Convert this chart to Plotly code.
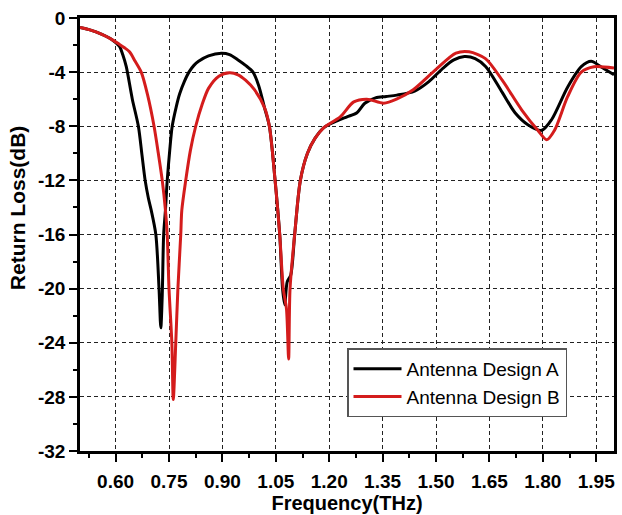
import plotly.graph_objects as go

# Antenna Design A (black)
freq_a = [0.50, 0.53, 0.56, 0.59, 0.611, 0.620, 0.630, 0.647, 0.664, 0.674, 0.683, 0.692,
          0.700, 0.713, 0.722, 0.727, 0.731, 0.735, 0.740, 0.745, 0.752, 0.759, 0.770,
          0.780, 0.793, 0.806, 0.820, 0.833, 0.861, 0.897, 0.920, 0.944, 0.965, 0.986,
          1.002, 1.018, 1.032, 1.048, 1.061, 1.069, 1.075, 1.082, 1.092, 1.103, 1.119,
          1.139, 1.160, 1.185, 1.222, 1.250, 1.278, 1.300, 1.330, 1.360, 1.390, 1.440,
          1.480, 1.520, 1.550, 1.580, 1.610, 1.640, 1.686, 1.722, 1.759, 1.797, 1.825,
          1.870, 1.908, 1.936, 1.963, 2.000]
loss_a = [-0.7, -0.9, -1.2, -1.6, -2.1, -2.7, -3.6, -6.0, -8.0, -10.1, -12.0, -13.3,
          -14.2, -16.0, -20.0, -22.9, -20.5, -16.0, -14.2, -12.0, -9.8, -8.0, -6.6,
          -5.6, -4.7, -4.0, -3.5, -3.2, -2.8, -2.6, -2.7, -3.1, -3.5, -4.0,
          -5.0, -6.6, -8.0, -12.0, -16.0, -20.0, -21.2, -19.5, -19.0, -16.0, -12.0,
          -10.0, -8.9, -8.1, -7.6, -7.3, -7.0, -6.3, -5.9, -5.8, -5.7, -5.4,
          -4.7, -3.7, -3.1, -2.85, -3.0, -3.6, -5.5, -7.0, -7.9, -8.3, -7.5,
          -5.1, -3.6, -3.2, -3.6, -4.2]

# Antenna Design B (red)
freq_b = [0.50, 0.53, 0.56, 0.59, 0.611, 0.625, 0.639, 0.655, 0.672, 0.690, 0.708, 0.720,
          0.731, 0.740, 0.745, 0.750, 0.758, 0.762, 0.769, 0.775, 0.783, 0.786, 0.797,
          0.810, 0.825, 0.843, 0.861, 0.890, 0.920, 0.944, 0.965, 0.990, 1.018, 1.032,
          1.048, 1.061, 1.071, 1.080, 1.086, 1.090, 1.103, 1.119, 1.139, 1.160, 1.185,
          1.231, 1.269, 1.306, 1.353, 1.389, 1.436, 1.500, 1.556, 1.593, 1.639, 1.686,
          1.741, 1.786, 1.811, 1.833, 1.870, 1.908, 1.944, 2.000]
loss_b = [-0.7, -0.9, -1.2, -1.6, -1.95, -2.2, -2.5, -3.2, -4.0, -5.7, -8.0, -10.0,
          -12.0, -14.2, -16.0, -20.0, -24.0, -28.2, -24.0, -20.0, -16.0, -14.2, -12.0,
          -9.8, -8.0, -6.4, -5.2, -4.3, -4.05, -4.2, -4.6, -5.3, -6.6, -8.0,
          -12.0, -16.0, -20.0, -21.5, -25.2, -20.0, -16.0, -12.0, -10.0, -8.9, -8.1,
          -7.3, -6.2, -6.0, -6.3, -6.0, -5.3, -3.8, -2.6, -2.5, -3.0, -4.6,
          -6.8, -8.3, -9.0, -8.3, -5.8, -4.0, -3.6, -3.7]

x_tickvals = [0.60, 0.75, 0.90, 1.05, 1.20, 1.35, 1.50, 1.65, 1.80, 1.95]
x_ticktext = ["0.60", "0.75", "0.90", "1.05", "1.20", "1.35", "1.50", "1.65", "1.80", "1.95"]
y_tickvals = [0, -4, -8, -12, -16, -20, -24, -28, -32]
y_ticktext = ["0", "-4", "-8", "-12", "-16", "-20", "-24", "-28", "-32"]

FONT = "Arial, Liberation Sans, sans-serif"

fig = go.Figure()
fig.add_trace(go.Scatter(x=freq_a, y=loss_a, mode="lines", name="Antenna Design A",
                         line=dict(color="#000000", width=3, shape="spline", smoothing=0.8)))
fig.add_trace(go.Scatter(x=freq_b, y=loss_b, mode="lines", name="Antenna Design B",
                         line=dict(color="#d41c1c", width=3, shape="spline", smoothing=0.8)))

fig.update_layout(
    width=622, height=515,
    margin=dict(l=80, r=5, t=18, b=63),
    paper_bgcolor="white", plot_bgcolor="white",
    font=dict(family=FONT, color="#000"),
    legend=dict(x=0.5, y=0.237, xanchor="left", yanchor="top",
                bgcolor="white", bordercolor="#555", borderwidth=1.5,
                font=dict(size=19, family=FONT),
                tracegroupgap=0, itemwidth=48),
    xaxis=dict(range=[0.5, 2.0], tickvals=x_tickvals,
               ticktext=["<b>" + t + "</b>" for t in x_ticktext],
               tickfont=dict(family=FONT, size=19, weight="bold"),
               ticks="outside", ticklen=8, tickwidth=2, tickcolor="#000",
               ticklabelstandoff=3,
               minor=dict(dtick=0.075, tick0=0.525, ticks="outside", ticklen=4,
                          tickwidth=2, tickcolor="#000", showgrid=False),
               showline=True, linewidth=2.5, linecolor="#000", mirror=True,
               showgrid=True, gridcolor="#222", gridwidth=1, griddash="4px,3px",
               zeroline=False,
               title=dict(text="<b>Frequency(THz)</b>",
                          font=dict(family=FONT, size=20, weight="bold"), standoff=4)),
    yaxis=dict(range=[-32, 0], tickvals=y_tickvals,
               ticktext=["<b>" + t + "</b>" for t in y_ticktext],
               tickfont=dict(family=FONT, size=19, weight="bold"),
               ticks="outside", ticklen=8, tickwidth=2, tickcolor="#000",
               minor=dict(dtick=2, tick0=0, ticks="outside", ticklen=4,
                          tickwidth=2, tickcolor="#000", showgrid=False),
               showline=True, linewidth=2.5, linecolor="#000", mirror=True,
               showgrid=True, gridcolor="#222", gridwidth=1, griddash="4px,3px",
               zeroline=False),
    annotations=[dict(text="<b>Return Loss(dB)</b>", xref="paper", yref="paper",
                      x=-0.117, y=0.562, xanchor="center", yanchor="middle",
                      textangle=-90, showarrow=False,
                      font=dict(family=FONT, size=21, weight="bold", color="#000"))],
)

fig.write_html("out.html")
